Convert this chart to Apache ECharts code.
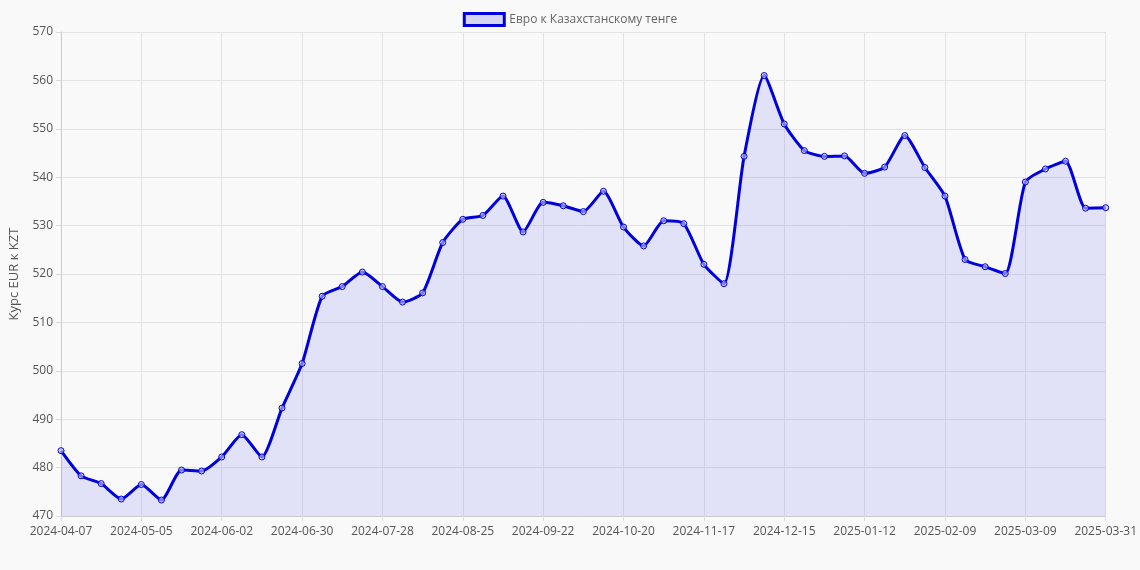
<!DOCTYPE html>
<html>
<head>
<meta charset="utf-8">
<script src="https://cdn.jsdelivr.net/npm/echarts@6/dist/echarts.min.js"></script>
<style>
  html, body { margin: 0; padding: 0; background: #f9f9f9; }
  #chart { width: 1140px; height: 570px; }
</style>
</head>
<body>
<div id="chart"></div>
<script>
// weekly dates (category axis)
const dates = [
  '2024-04-07','2024-04-14','2024-04-21','2024-04-28','2024-05-05','2024-05-12','2024-05-19','2024-05-26',
  '2024-06-02','2024-06-09','2024-06-16','2024-06-23','2024-06-30','2024-07-07','2024-07-14','2024-07-21',
  '2024-07-28','2024-08-04','2024-08-11','2024-08-18','2024-08-25','2024-09-01','2024-09-08','2024-09-15',
  '2024-09-22','2024-09-29','2024-10-06','2024-10-13','2024-10-20','2024-10-27','2024-11-03','2024-11-10',
  '2024-11-17','2024-11-24','2024-12-01','2024-12-08','2024-12-15','2024-12-22','2024-12-29','2025-01-05',
  '2025-01-12','2025-01-19','2025-01-26','2025-02-02','2025-02-09','2025-02-16','2025-02-23','2025-03-02',
  '2025-03-09','2025-03-16','2025-03-23','2025-03-30','2025-03-31'
];

// курс EUR к KZT
const rates = [
  483.5, 478.3, 476.7, 473.5, 476.5, 473.3, 479.5, 479.3,
  482.2, 486.8, 482.2, 492.3, 501.5, 515.4, 517.4, 520.4,
  517.4, 514.2, 516.1, 526.5, 531.3, 532.1, 536.1, 528.7,
  534.8, 534.1, 532.9, 537.1, 529.7, 525.8, 531.0, 530.4,
  522.0, 518.0, 544.3, 561.0, 551.0, 545.5, 544.3, 544.4,
  540.8, 542.1, 548.6, 542.0, 536.1, 523.0, 521.5, 520.1,
  539.0, 541.7, 543.3, 533.6, 533.7
];

const chart = echarts.init(document.getElementById('chart'));
chart.setOption({
  backgroundColor: '#f9f9f9',
  textStyle: { fontFamily: 'Open Sans, Arial, sans-serif' },
  legend: {
    top: 7,
    itemWidth: 40, itemHeight: 12,
    textStyle: { color: '#666', fontSize: 12 },
    data: [{ name: 'Евро к Казахстанскому тенге', icon: 'rect',
      itemStyle: { color: 'rgba(80,80,230,0.22)', borderColor: '#0000dd', borderWidth: 3 } }]
  },
  grid: { left: 59, right: 34, top: 32, bottom: 54 },
  xAxis: {
    type: 'category',
    data: dates,
    boundaryGap: false,
    axisLine: { lineStyle: { color: '#ccc' } },
    axisTick: { show: true, interval: 3, lineStyle: { color: '#ddd' } },
    axisLabel: { interval: 3, color: '#555', fontSize: 12, margin: 10 },
    splitLine: { show: true, interval: 3, lineStyle: { color: '#e3e3e3' } }
  },
  yAxis: {
    type: 'value',
    min: 470, max: 570, interval: 10,
    name: 'Курс EUR к KZT',
    nameLocation: 'middle',
    nameGap: 40,
    nameTextStyle: { color: '#555', fontSize: 13 },
    axisLine: { show: true, lineStyle: { color: '#ccc' } },
    axisTick: { show: true, lineStyle: { color: '#ddd' } },
    axisLabel: { color: '#555', fontSize: 12 },
    splitLine: { lineStyle: { color: '#e3e3e3' } }
  },
  series: [{
    name: 'Евро к Казахстанскому тенге',
    type: 'line',
    data: rates,
    smooth: 0.2,
    symbol: 'circle',
    symbolSize: 6,
    lineStyle: { color: '#0000dd', width: 3 },
    itemStyle: { color: 'rgba(200,200,245,0.6)', borderColor: '#0000dd', borderWidth: 1 },
    areaStyle: { color: 'rgba(90,90,235,0.22)' }
  }]
});
</script>
</body>
</html>
